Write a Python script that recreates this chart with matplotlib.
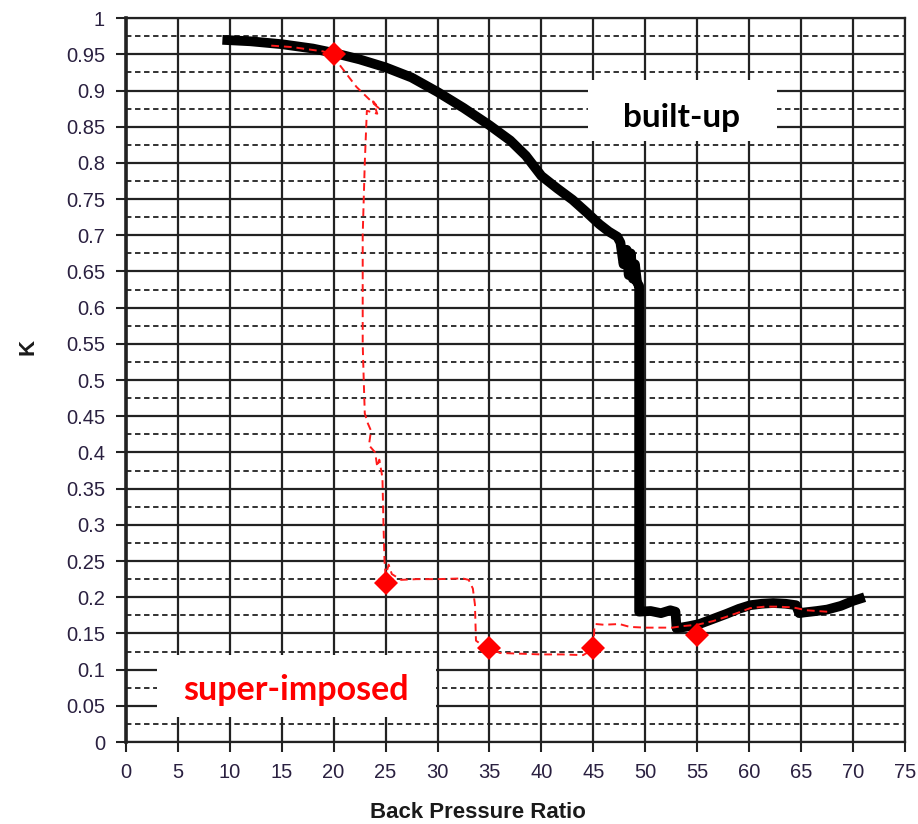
import numpy as np
import matplotlib
matplotlib.use('Agg')
import matplotlib.pyplot as plt
from matplotlib.patches import Rectangle

# built-up curve (thick black)
built_x = [9.3, 12, 15, 18, 20, 22.5, 25, 27.5, 30, 32.5, 35, 37, 38.5, 40, 41.5, 43,
           44.4, 45.6, 46.5, 47.3, 47.6, 47.9, 48.2, 48.4, 48.6, 48.8, 49.0, 49.2, 49.4,
           49.4, 50.5, 51.5, 52.4, 52.9, 53.0, 53.4, 54.2, 55.2, 56.5, 57.8, 59.0, 60.1,
           61.2, 62.3, 63.5, 64.5, 64.8, 65.3, 66.5, 67.5, 68.8, 70.0, 71.1]
built_y = [0.970, 0.968, 0.964, 0.958, 0.952, 0.943, 0.932, 0.918, 0.898, 0.876, 0.852,
           0.831, 0.810, 0.782, 0.765, 0.749, 0.731, 0.715, 0.705, 0.698, 0.690, 0.660,
           0.680, 0.645, 0.675, 0.640, 0.660, 0.635, 0.630, 0.180, 0.181, 0.178, 0.182,
           0.180, 0.157, 0.158, 0.160, 0.163, 0.170, 0.177, 0.184, 0.189, 0.191, 0.192,
           0.191, 0.189, 0.178, 0.179, 0.181, 0.183, 0.188, 0.195, 0.200]

# super-imposed curve (thin red dashed)
sup_x = [14.0, 16, 18, 19, 20, 20.6, 21.5, 22.2, 23.2, 24.0, 24.4, 23.8, 24.2, 23.2,
         23.0, 22.8, 22.8, 22.9, 23.0, 23.3, 23.6, 23.4, 24.0, 24.2, 24.4, 24.7, 24.8,
         24.9, 25.0, 25.3, 25.6, 26.5, 28, 30, 32.4, 33.0, 33.4, 33.6, 33.7, 34.2, 35.0,
         36, 38, 40, 42, 44.0, 44.6, 45.0, 45.1, 45.2, 46, 47.5, 48.5, 50, 51.5, 52.6,
         53.5, 55.0, 56.5, 57.8, 59, 60.1, 61.5, 62.7, 64.2, 65.5, 66.5, 67.5]
sup_y = [0.962, 0.960, 0.956, 0.954, 0.950, 0.935, 0.918, 0.905, 0.891, 0.880, 0.875,
         0.885, 0.868, 0.872, 0.80, 0.70, 0.55, 0.50, 0.454, 0.44, 0.43, 0.41, 0.40,
         0.38, 0.39, 0.365, 0.30, 0.25, 0.23, 0.245, 0.232, 0.224, 0.225, 0.225, 0.226,
         0.224, 0.212, 0.19, 0.14, 0.135, 0.13, 0.123, 0.122, 0.121, 0.121, 0.120, 0.125,
         0.13, 0.16, 0.163, 0.162, 0.163, 0.159, 0.158, 0.158, 0.158, 0.16, 0.162, 0.167,
         0.173, 0.179, 0.185, 0.187, 0.187, 0.186, 0.182, 0.181, 0.180]

# diamond markers on the super-imposed curve
mark_x = [20, 25, 35, 45, 55]
mark_y = [0.95, 0.22, 0.13, 0.13, 0.148]

x_ticks = list(range(0, 80, 5))
y_ticks = [round(v, 2) for v in np.arange(0, 1.0001, 0.05)]
y_tick_labels = ['0', '0.05', '0.1', '0.15', '0.2', '0.25', '0.3', '0.35', '0.4', '0.45',
                 '0.5', '0.55', '0.6', '0.65', '0.7', '0.75', '0.8', '0.85', '0.9', '0.95', '1']
y_minor = [round(v, 3) for v in np.arange(0.025, 1.0, 0.05)]

plt.rcParams['font.family'] = ['Liberation Sans', 'DejaVu Sans']

fig = plt.figure(figsize=(9.18, 8.24), dpi=100)
ax = fig.add_axes([0.137, 0.0995, 0.849, 0.8785])

ax.set_xlim(0, 75)
ax.set_ylim(0, 1)
ax.set_xticks(x_ticks)
ax.set_xticklabels([str(v) for v in x_ticks])
ax.set_yticks(y_ticks)
ax.set_yticklabels(y_tick_labels)
ax.set_yticks(y_minor, minor=True)

tick_col = '#2a2040'
ax.tick_params(axis='both', which='major', direction='out', length=7, width=1.5,
               color='#222222', labelsize=14.5, labelcolor=tick_col, pad=8)
ax.tick_params(axis='y', which='minor', length=0)

ax.set_axisbelow(True)
ax.grid(which='major', axis='both', color='#222222', lw=1.6)
ax.grid(which='minor', axis='y', color='#222222', lw=1.3, ls=(0, (3, 2)))

for s in ax.spines.values():
    s.set_color('#222222')
    s.set_linewidth(1.6)
ax.spines['left'].set_linewidth(2.6)

# white boxes behind the labels
ax.add_patch(Rectangle((44.5, 0.83), 18.2, 0.085, facecolor='white', edgecolor='none', zorder=1.5))
ax.add_patch(Rectangle((3.0, 0.035), 26.9, 0.085, facecolor='white', edgecolor='none', zorder=1.5))

ax.plot(built_x, built_y, color='black', lw=7, solid_joinstyle='round',
        solid_capstyle='butt', zorder=3)
ax.plot(sup_x, sup_y, color='#ff1a1a', lw=1.4, ls=(0, (4, 2.5)), zorder=4)
ax.plot(mark_x, mark_y, ls='none', marker='D', ms=12, color='#ff0000',
        markeredgewidth=0, zorder=5)

ax.text(53.5, 0.863, 'built-up', ha='center', va='center', fontsize=24,
        fontweight='bold', family='Lato', color='black', zorder=6)
ax.text(16.4, 0.0725, 'super-imposed', ha='center', va='center', fontsize=24.5,
        fontweight='bold', family='Lato', color='#ff0000', zorder=6)

ax.set_xlabel('Back Pressure Ratio', fontsize=16, fontweight='bold', color='#1a1a1a',
              va='center')
ax.set_ylabel('K', fontsize=16, fontweight='bold', color='#1a1a1a', va='center')
ax.xaxis.set_label_coords(0.452, -0.097)
ax.yaxis.set_label_coords(-0.126, 0.546)

fig.savefig('out.png', dpi=100)
